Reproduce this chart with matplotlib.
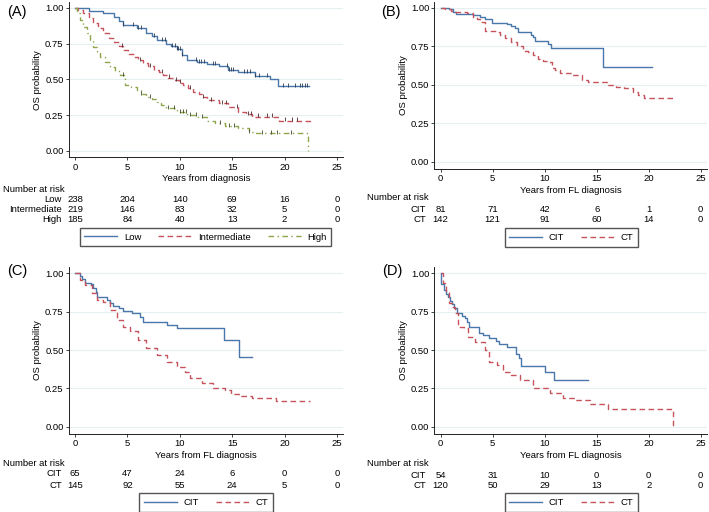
import matplotlib
matplotlib.use('Agg')
import matplotlib.pyplot as plt
import numpy as np
from matplotlib import transforms

plt.rcParams['font.family'] = ['Liberation Sans', 'DejaVu Sans']

# ---- data ----
years_ticks = [0, 5, 10, 15, 20, 25]

# panel A (risk groups)
a_low_t = [0, 1.3, 2.7, 3.7, 4.2, 4.6, 5.9, 6.8, 7.3, 7.8, 8.7, 9.2, 9.7, 10.2, 10.7, 11.6, 12.6, 13.7, 14.6, 15.6, 17.2, 18.6, 19.4, 22.3]
a_low_s = [1.0, 0.98, 0.96, 0.935, 0.91, 0.88, 0.86, 0.82, 0.80, 0.775, 0.75, 0.73, 0.71, 0.67, 0.635, 0.622, 0.605, 0.59, 0.565, 0.548, 0.52, 0.505, 0.452, 0.452]
a_int_t = [0, 0.3, 0.8, 1.3, 1.75, 2.2, 2.7, 3.2, 3.7, 4.2, 4.6, 5.1, 5.6, 6.0, 6.5, 7.0, 7.5, 8.0, 8.4, 8.9, 9.4, 9.9, 10.3, 10.8, 11.3, 11.8, 12.2, 12.6, 13.7, 14.6, 15.6, 16.3, 16.9, 19.5, 22.7]
a_int_s = [1.0, 0.985, 0.96, 0.925, 0.89, 0.855, 0.82, 0.79, 0.763, 0.735, 0.705, 0.68, 0.658, 0.635, 0.612, 0.59, 0.565, 0.548, 0.53, 0.512, 0.495, 0.478, 0.46, 0.437, 0.414, 0.395, 0.379, 0.356, 0.337, 0.305, 0.274, 0.255, 0.24, 0.212, 0.212]
a_high_t = [0, 0.2, 0.5, 0.8, 1.1, 1.4, 1.75, 2.1, 2.4, 2.85, 3.3, 3.8, 4.3, 4.8, 5.3, 5.9, 6.3, 6.8, 7.3, 7.8, 8.2, 8.7, 9.7, 10.7, 11.6, 12.6, 13.4, 14.3, 15.6, 16.6, 17.0, 22.2, 22.2]
a_high_s = [1.0, 0.96, 0.914, 0.865, 0.82, 0.775, 0.728, 0.69, 0.658, 0.62, 0.588, 0.56, 0.53, 0.46, 0.445, 0.426, 0.40, 0.379, 0.36, 0.344, 0.32, 0.298, 0.274, 0.251, 0.235, 0.212, 0.193, 0.174, 0.158, 0.135, 0.128, 0.128, 0.0]
a_low_cens = [4.6, 5.5, 6.0, 6.3, 7.5, 8.3, 8.6, 9.3, 9.5, 9.7, 9.8, 10.0, 10.2, 11.5, 11.8, 12.0, 12.3, 13.2, 13.4, 14.5, 14.7, 14.9, 15.1, 16.1, 16.4, 16.7, 17.2, 17.6, 18.3, 19.8, 20.3, 21.0, 21.5, 21.7, 21.9, 22.1]
a_int_cens = [4.5, 6.2, 7.2, 8.3, 9.0, 9.6, 10.0, 11.0, 12.2, 13.0, 14.0, 14.4, 15.5, 16.5, 16.8, 17.5, 18.3, 18.8, 20.0, 20.7, 21.2]
a_high_cens = [4.6, 6.3, 7.2, 8.9, 9.4, 10.0, 10.3, 10.6, 11.0, 11.5, 12.1, 13.8, 14.7, 15.2, 16.6, 17.8, 18.7, 19.3, 20.6]
a_groups = ['Low', 'Intermediate', 'High']
a_risk = [[238, 204, 140, 69, 16, 0], [219, 146, 83, 32, 5, 0], [185, 84, 40, 13, 2, 0]]

# panel B
b_cit_t = [0, 0.75, 1.2, 1.45, 3.1, 3.8, 4.3, 4.9, 6.4, 6.8, 7.15, 7.4, 8.65, 8.9, 9.1, 10.35, 10.6, 15.6, 20.3]
b_cit_s = [1.0, 0.99, 0.975, 0.962, 0.952, 0.94, 0.924, 0.90, 0.892, 0.88, 0.866, 0.844, 0.825, 0.81, 0.784, 0.766, 0.736, 0.615, 0.615]
b_ct_t = [0, 0.4, 1.0, 1.4, 2.5, 3.1, 3.5, 3.8, 4.3, 5.3, 5.7, 6.2, 6.8, 7.3, 7.9, 8.4, 8.9, 9.4, 9.8, 10.2, 10.7, 11.0, 11.5, 12.6, 13.6, 14.2, 16.1, 16.9, 17.6, 18.5, 19.0, 19.5, 22.4]
b_ct_s = [1.0, 0.99, 0.98, 0.972, 0.965, 0.94, 0.925, 0.91, 0.851, 0.84, 0.825, 0.805, 0.779, 0.75, 0.72, 0.71, 0.693, 0.665, 0.655, 0.645, 0.606, 0.593, 0.578, 0.563, 0.53, 0.517, 0.50, 0.483, 0.476, 0.455, 0.43, 0.413, 0.413]
b_risk = [[81, 71, 42, 6, 1, 0], [142, 121, 91, 60, 14, 0]]

# panel C
c_cit_t = [0, 0.5, 0.7, 0.95, 1.5, 1.75, 2.0, 2.1, 3.1, 3.35, 3.6, 4.2, 4.55, 5.4, 6.2, 6.45, 8.75, 9.7, 14.2, 15.65, 16.9]
c_cit_s = [1.0, 0.985, 0.963, 0.94, 0.928, 0.906, 0.876, 0.848, 0.826, 0.804, 0.789, 0.772, 0.754, 0.739, 0.717, 0.685, 0.663, 0.641, 0.565, 0.454, 0.454]
c_ct_t = [0, 0.5, 0.95, 1.6, 2.07, 2.7, 3.3, 4.0, 4.6, 5.25, 6.0, 6.8, 7.8, 8.75, 9.7, 10.5, 11.0, 12.1, 13.2, 14.3, 14.9, 15.7, 16.9, 19.2, 22.4]
c_ct_s = [1.0, 0.957, 0.924, 0.87, 0.826, 0.81, 0.76, 0.696, 0.652, 0.624, 0.565, 0.511, 0.467, 0.424, 0.391, 0.359, 0.315, 0.283, 0.254, 0.239, 0.211, 0.20, 0.185, 0.167, 0.167]
c_risk = [[65, 47, 24, 6, 0, 0], [145, 92, 55, 24, 5, 0]]

# panel D
d_cit_t = [0, 0.03, 0.35, 0.5, 0.67, 0.9, 1.1, 1.3, 1.6, 2.0, 2.3, 2.5, 2.75, 3.7, 4.1, 4.6, 5.3, 5.6, 6.35, 7.25, 7.5, 7.7, 10.0, 10.9, 14.2]
d_cit_s = [1.0, 0.928, 0.891, 0.863, 0.848, 0.82, 0.798, 0.772, 0.743, 0.724, 0.707, 0.685, 0.652, 0.613, 0.598, 0.58, 0.559, 0.539, 0.522, 0.472, 0.446, 0.398, 0.359, 0.304, 0.304]
d_ct_t = [0, 0.25, 0.5, 0.75, 1.05, 1.4, 1.65, 2.2, 2.65, 3.3, 4.25, 4.6, 5.4, 6.0, 6.8, 7.6, 8.9, 10.5, 11.8, 12.9, 14.4, 16.1, 22.3, 22.3]
d_ct_s = [1.0, 0.935, 0.88, 0.804, 0.783, 0.739, 0.652, 0.641, 0.587, 0.55, 0.50, 0.424, 0.402, 0.359, 0.337, 0.304, 0.254, 0.217, 0.185, 0.174, 0.146, 0.115, 0.115, 0.0]
d_risk = [[54, 31, 10, 0, 0, 0], [120, 50, 29, 13, 2, 0]]

treat_groups = ['CIT', 'CT']

BLUE = '#4a77a9'
RED = '#c6535b'
GREEN = '#8fa54c'
GRID = '#e6eff1'
FS = 6.8

W, H = 709, 512
fig = plt.figure(figsize=(W / 100, H / 100), dpi=100)

XL, XR = -0.6, 25.6
YB, YT = -0.045, 1.04


def km_axes(x0, x25, y1, y0):
    # x0/x25: pixel column of year 0 / 25, y1/y0: pixel row of prob 1 / 0
    xs = (x25 - x0) / 25.0
    ys = (y0 - y1)
    left = x0 + XL * xs
    right = x0 + XR * xs
    top = y0 - YT * ys
    bottom = y0 - YB * ys
    ax = fig.add_axes([left / W, 1 - bottom / H, (right - left) / W, (bottom - top) / H])
    ax.set_xlim(XL, XR)
    ax.set_ylim(YB, YT)
    for s in ['top', 'right']:
        ax.spines[s].set_visible(False)
    for s in ['left', 'bottom']:
        ax.spines[s].set_linewidth(0.7)
        ax.spines[s].set_color('#222222')
    ax.set_xticks(years_ticks)
    ax.set_yticks([0, 0.25, 0.5, 0.75, 1.0])
    ax.set_yticklabels(['0.00', '0.25', '0.50', '0.75', '1.00'])
    ax.tick_params(labelsize=FS, length=2.5, width=0.6, pad=1.2, color='#222222')
    ax.grid(axis='y', color=GRID, linewidth=0.8)
    ax.set_axisbelow(True)
    ax.set_ylabel('OS probability', fontsize=FS, labelpad=2)
    return ax


def step(ax, t, s, color, ls, label):
    ax.step(t, s, where='post', color=color, linestyle=ls, linewidth=1.0, label=label)


def censor(ax, t, s, times, color):
    t = np.array(t)
    s = np.array(s)
    idx = np.searchsorted(t, times, side='right') - 1
    ax.plot(times, s[idx] + 0.008, linestyle='none', marker='|', markersize=3.2,
            markeredgewidth=0.6, color=color)


def risk_table(ax, labels, rows, ytitle, yrows, xlab_px, xtitle_px):
    tr = transforms.blended_transform_factory(ax.transData, fig.transFigure)
    fig.text(xtitle_px / W, 1 - ytitle / H, 'Number at risk', fontsize=FS, ha='left', va='center')
    for lab, row, yp in zip(labels, rows, yrows):
        fig.text(xlab_px / W, 1 - yp / H, lab, fontsize=FS, ha='right', va='center')
        for x, n in zip(years_ticks, row):
            ax.text(x, 1 - yp / H, str(n), transform=tr, fontsize=FS, ha='center', va='center')


def legend(ax, cx, cy):
    ax.legend(loc='center', bbox_to_anchor=(cx / W, 1 - cy / H), bbox_transform=fig.transFigure,
              ncol=3, fontsize=FS, frameon=True, fancybox=False, edgecolor='#555555',
              handlelength=3.5, columnspacing=1.8, handletextpad=0.7, borderpad=0.5,
              framealpha=1)


dash = (0, (4, 2.5))
dashdot = (0, (4, 2.5, 1, 2.5))

# ---- (A) ----
axA = km_axes(75, 337, 7.7, 151)
step(axA, a_low_t, a_low_s, BLUE, '-', a_groups[0])
step(axA, a_int_t, a_int_s, RED, dash, a_groups[1])
step(axA, a_high_t, a_high_s, GREEN, dashdot, a_groups[2])
censor(axA, a_low_t, a_low_s, a_low_cens, '#2a3a50')
censor(axA, a_int_t, a_int_s, a_int_cens, '#4a2a2c')
censor(axA, a_high_t, a_high_s, a_high_cens, '#3e4a28')
axA.set_xlabel('Years from diagnosis', fontsize=FS, labelpad=2)
risk_table(axA, a_groups, a_risk, 189, [199, 209, 219], 62, 3)
legend(axA, 205.5, 237)
fig.text(17 / W, 1 - 12 / H, '(A)', fontsize=10.5, ha='center', va='center')

# ---- (B) ----
axB = km_axes(440.7, 700.7, 7.7, 161.7)
step(axB, b_cit_t, b_cit_s, BLUE, '-', treat_groups[0])
step(axB, b_ct_t, b_ct_s, RED, dash, treat_groups[1])
axB.set_xlabel('Years from FL diagnosis', fontsize=FS, labelpad=2)
risk_table(axB, treat_groups, b_risk, 198, [209, 220], 426, 367)
legend(axB, 571.5, 237.5)
fig.text(391 / W, 1 - 12 / H, '(B)', fontsize=10.5, ha='center', va='center')

# ---- (C) ----
axC = km_axes(75, 337, 273.3, 426.7)
step(axC, c_cit_t, c_cit_s, BLUE, '-', treat_groups[0])
step(axC, c_ct_t, c_ct_s, RED, dash, treat_groups[1])
axC.set_xlabel('Years from FL diagnosis', fontsize=FS, labelpad=2)
risk_table(axC, treat_groups, c_risk, 463, [474, 485], 62, 3)
legend(axC, 206, 502.5)
fig.text(17.5 / W, 1 - 271 / H, '(C)', fontsize=10.5, ha='center', va='center')

# ---- (D) ----
axD = km_axes(440.7, 700.7, 273.3, 426.7)
step(axD, d_cit_t, d_cit_s, BLUE, '-', treat_groups[0])
step(axD, d_ct_t, d_ct_s, RED, dash, treat_groups[1])
axD.set_xlabel('Years from FL diagnosis', fontsize=FS, labelpad=2)
risk_table(axD, treat_groups, d_risk, 463, [475, 486], 426, 367)
legend(axD, 571.5, 502.5)
fig.text(392 / W, 1 - 271 / H, '(D)', fontsize=10.5, ha='center', va='center')

fig.savefig('out.png', dpi=100)
